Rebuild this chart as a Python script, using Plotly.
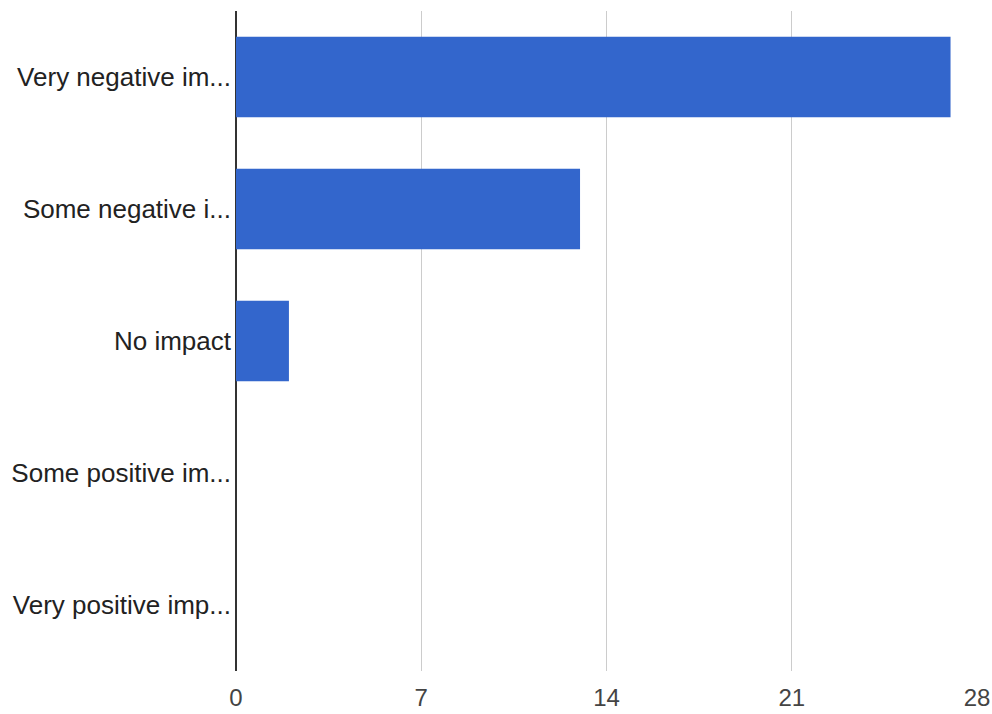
import plotly.graph_objects as go

# Survey responses: perceived impact
categories = [
    "Very negative im...",
    "Some negative i...",
    "No impact",
    "Some positive im...",
    "Very positive imp...",
]
counts = [27, 13, 2, 0, 0]
x_ticks = [0, 7, 14, 21, 28]

fig = go.Figure(
    go.Bar(
        x=counts,
        y=categories,
        orientation="h",
        marker=dict(color="#3366cc", line=dict(width=0)),
        hoverinfo="x+y",
    )
)

fig.update_layout(
    width=992,
    height=714,
    margin=dict(l=236, r=15, t=11, b=43, autoexpand=False),
    paper_bgcolor="white",
    plot_bgcolor="white",
    bargap=0.39,
    showlegend=False,
    font=dict(family="Arial, 'Liberation Sans', sans-serif"),
)

fig.update_xaxes(
    range=[0, 28],
    tickvals=x_ticks,
    ticktext=[str(v) for v in x_ticks],
    showgrid=True,
    gridcolor="#cccccc",
    gridwidth=1,
    zeroline=True,
    zerolinecolor="#333333",
    zerolinewidth=2,
    showline=False,
    ticks="",
    tickfont=dict(size=24, color="#444444"),
    ticklabelstandoff=10,
    fixedrange=True,
)

fig.update_yaxes(
    categoryorder="array",
    categoryarray=categories,
    autorange="reversed",
    showgrid=False,
    zeroline=False,
    showline=False,
    ticks="",
    tickfont=dict(size=26, color="#222222"),
    ticklabelstandoff=4,
    fixedrange=True,
)

fig.write_html("out.html")
